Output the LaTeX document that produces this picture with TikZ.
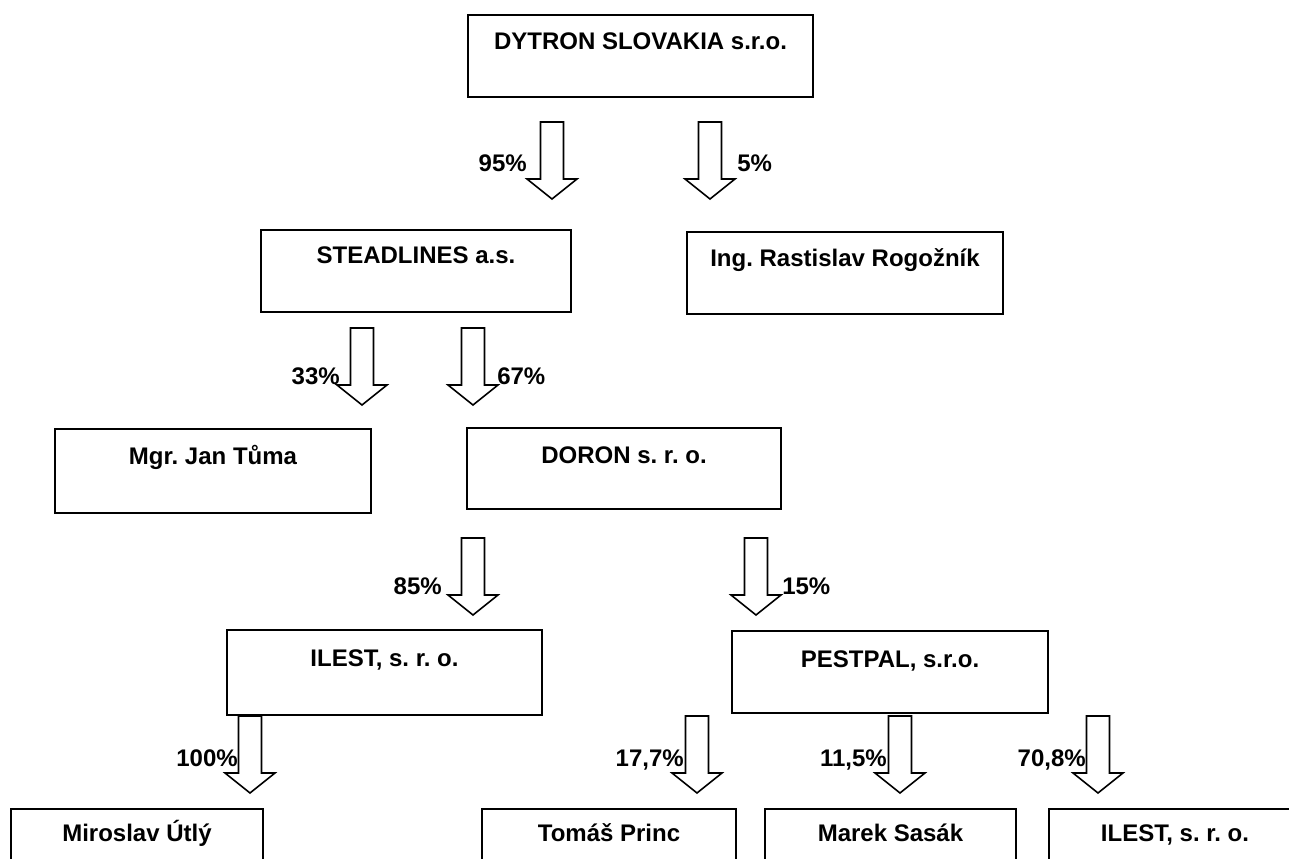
\documentclass[tikz,border=0pt]{standalone}
\usepackage{fontspec}
\setmainfont{Liberation Sans}
\frenchspacing
\begin{document}
\begin{tikzpicture}[x=0.75pt,y=-0.75pt,
  box/.style={draw, line width=1.5pt, minimum width=#1, minimum height=61.5pt, anchor=north west, inner sep=0pt},
  txt/.style={font=\fontsize{18}{21}\selectfont\bfseries, anchor=base, inner sep=0pt},
  pctl/.style={font=\fontsize{18}{21}\selectfont\bfseries, anchor=base east, inner sep=0pt},
  pctr/.style={font=\fontsize{18}{21}\selectfont\bfseries, anchor=base west, inner sep=0pt},
  arrowline/.style={draw, line width=1.2pt, line join=miter},
  barrow/.pic={
    \draw[arrowline] (-11.5,0) -- (-11.5,57) -- (-25,57) -- (0,77) -- (25,57) -- (11.5,57) -- (11.5,0) -- cycle;
  }
]
\clip (0,0) rectangle (1289,859);
\fill[white] (0,0) rectangle (1289,859);

% boxes
\node[box=258.75pt] (dytron) at (467,14) {};
\node[txt] (dytront) at ([yshift=-27pt]dytron.north) {DYTRON SLOVAKIA s.r.o.};

\node[box=232.5pt] (stead) at (260,229) {};
\node[txt] (steadt) at ([yshift=-26pt]stead.north) {STEADLINES a.s.};

\node[box=237pt] (ing) at (686,231) {};
\node[txt] (ingt) at ([yshift=-27pt]ing.north) {Ing. Rastislav Rogožník};

\node[box=237pt, minimum height=63pt] (mgr) at (54,428) {};
\node[txt] (mgrt) at ([yshift=-27pt]mgr.north) {Mgr. Jan Tůma};

\node[box=235.5pt, minimum height=60.75pt] (doron) at (466,427) {};
\node[txt] (dolont) at ([yshift=-27pt]doron.north) {DORON s. r. o.};

\node[box=236.25pt, minimum height=63.75pt] (ilest) at (226,629) {};
\node[txt] (ilestt) at ([yshift=-28pt]ilest.north) {ILEST, s. r. o.};

\node[box=237pt] (pestpal) at (731,630) {};
\node[txt] (pestpalt) at ([yshift=-28pt]pestpal.north) {PESTPAL, s.r.o.};

\node[box=189pt, minimum height=75pt] (utly) at (10,808) {};
\node[txt] (utlyt) at ([yshift=-25pt]utly.north) {Miroslav Útlý};

\node[box=190.5pt, minimum height=75pt] (princ) at (481,808) {};
\node[txt] (princt) at ([yshift=-25pt]princ.north) {Tomáš Princ};

\node[box=188.25pt, minimum height=75pt] (sasak) at (764,808) {};
\node[txt] (sasakt) at ([yshift=-25pt]sasak.north) {Marek Sasák};

\node[box=189pt, minimum height=75pt] (ilestb) at (1048,808) {};
\node[txt] (ilestbt) at ([yshift=-25pt]ilestb.north) {ILEST, s. r. o.};

% block arrows
\pic at (552,122) {barrow};
\pic at (710,122) {barrow};
\pic at (362,328) {barrow};
\pic at (473,328) {barrow};
\pic at (473,538) {barrow};
\pic at (756,538) {barrow};
\pic at (250,716) {barrow};
\pic at (697,716) {barrow};
\pic at (900,716) {barrow};
\pic at (1098,716) {barrow};

% percentages
\node[pctl] (p95) at (527,172) {95\%};
\node[pctr] (p5) at (737,172) {5\%};
\node[pctl] (p33) at (340,384) {33\%};
\node[pctr] (p67) at (497,384) {67\%};
\node[pctl] (p85) at (442,594) {85\%};
\node[pctr] (p15) at (782,594) {15\%};
\node[pctl] (p100) at (238,766) {100\%};
\node[pctl] (p177) at (684,766) {17,7\%};
\node[pctl] (p115) at (887,766) {11,5\%};
\node[pctl] (p708) at (1086,766) {70,8\%};
\end{tikzpicture}
\end{document}
